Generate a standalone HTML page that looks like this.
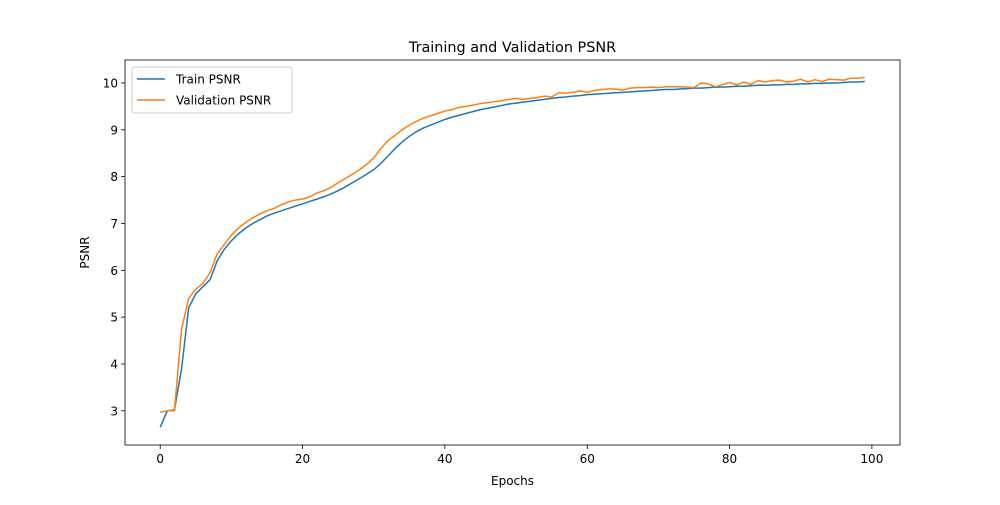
<!DOCTYPE html>
<html><head><meta charset="utf-8"><style>
body{margin:0;background:#fff}
svg text{font-family:"DejaVu Sans","Liberation Sans",sans-serif;fill:#000}
</style></head><body>
<svg id="c" width="1000" height="500" xmlns="http://www.w3.org/2000/svg"></svg>
<script>
const epochs = Array.from({length:100},(_,i)=>i);
const trainPsnr = [2.65,3.0,3.02,3.9,5.2,5.5,5.65,5.8,6.2,6.45,6.63,6.78,6.9,7.0,7.08,7.16,7.22,7.27,7.32,7.37,7.42,7.47,7.52,7.57,7.63,7.7,7.78,7.87,7.96,8.05,8.15,8.28,8.44,8.6,8.74,8.86,8.96,9.04,9.1,9.16,9.22,9.27,9.31,9.35,9.39,9.43,9.46,9.49,9.52,9.55,9.57,9.59,9.61,9.63,9.65,9.67,9.69,9.7,9.72,9.73,9.75,9.76,9.77,9.78,9.79,9.8,9.81,9.82,9.83,9.84,9.85,9.86,9.86,9.87,9.88,9.89,9.89,9.9,9.91,9.91,9.92,9.93,9.93,9.94,9.95,9.95,9.96,9.96,9.97,9.97,9.98,9.98,9.99,9.99,10.0,10.0,10.01,10.02,10.02,10.03];
const valPsnr = [2.97,3.0,3.0,4.75,5.4,5.6,5.72,5.95,6.35,6.55,6.75,6.9,7.02,7.12,7.2,7.27,7.32,7.4,7.46,7.5,7.52,7.57,7.65,7.7,7.77,7.87,7.96,8.05,8.15,8.26,8.4,8.6,8.77,8.88,9.0,9.1,9.18,9.25,9.3,9.35,9.4,9.43,9.48,9.5,9.53,9.56,9.58,9.6,9.62,9.65,9.67,9.65,9.67,9.69,9.72,9.7,9.79,9.78,9.8,9.83,9.8,9.84,9.86,9.87,9.87,9.85,9.89,9.9,9.9,9.91,9.9,9.92,9.92,9.92,9.91,9.9,10.0,9.98,9.92,9.96,10.01,9.96,10.02,9.97,10.05,10.02,10.05,10.06,10.02,10.04,10.08,10.02,10.07,10.03,10.08,10.07,10.06,10.1,10.1,10.12];
const xTicks = [0,20,40,60,80,100];
const yTicks = [3,4,5,6,7,8,9,10];

const L=125,R=900,T=60,B=445;
const xMin=-4.95,xMax=103.95,yMin=2.27,yMax=10.49;
const sx=v=>L+(v-xMin)/(xMax-xMin)*(R-L);
const sy=v=>B-(v-yMin)/(yMax-yMin)*(B-T);
const svg=document.getElementById('c');
const NS='http://www.w3.org/2000/svg';
function mk(tag,attrs,txt){const e=document.createElementNS(NS,tag);for(const k in attrs)e.setAttribute(k,attrs[k]);if(txt!==undefined)e.textContent=txt;svg.appendChild(e);return e;}

xTicks.forEach(t=>{
  const g=mk('line',{x1:sx(t),x2:sx(t),y1:B,y2:B+4,stroke:'#000','stroke-width':0.8});
  
  
  const tx=mk('text',{x:sx(t),y:B+18,'text-anchor':'middle','font-size':12},String(t));
  
  
});
yTicks.forEach(t=>{
  const g=mk('line',{x1:L-4,x2:L,y1:sy(t),y2:sy(t),stroke:'#000','stroke-width':0.8});
  
  
  const tx=mk('text',{x:L-7,y:sy(t)+4.5,'text-anchor':'end','font-size':12},String(t));
  
  
});
function line(data,color,name){
  const p=mk('polyline',{points:data.map((v,i)=>sx(epochs[i])+','+sy(v)).join(' '),fill:'none',stroke:color,'stroke-width':1.5,'stroke-linejoin':'round'});
  
  
}
line(trainPsnr,'#1f77b4','train-psnr-line');
line(valPsnr,'#ff7f0e','validation-psnr-line');
const frame=mk('rect',{x:L,y:T,width:R-L,height:B-T,fill:'none',stroke:'#000','stroke-width':0.8});


const title=mk('text',{x:(L+R)/2,y:T-8,'text-anchor':'middle','font-size':14.4},'Training and Validation PSNR');


const xl=mk('text',{x:(L+R)/2,y:485,'text-anchor':'middle','font-size':12},'Epochs');


const yl=mk('text',{x:89,y:(T+B)/2,'text-anchor':'middle','font-size':12,transform:'rotate(-90 89 '+((T+B)/2)+')'},'PSNR');


const lg=mk('rect',{x:132,y:67,width:160,height:46,rx:3,fill:'#fff',stroke:'#ccc','stroke-width':1});


[['Train PSNR','#1f77b4',79],['Validation PSNR','#ff7f0e',100]].forEach(([n,c,y])=>{
  const l=mk('line',{x1:137,x2:165,y1:y,y2:y,stroke:c,'stroke-width':1.5});
  
  
  const t=mk('text',{x:176,y:y+4.5,'font-size':12},n);
  
  
});
</script>
</body></html>
